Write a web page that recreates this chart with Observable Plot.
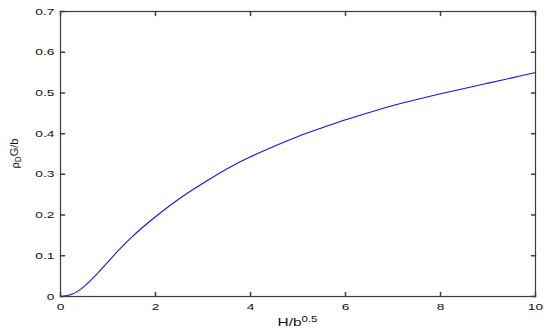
<!DOCTYPE html>
<html><head><meta charset="utf-8">
<script src="https://cdn.jsdelivr.net/npm/d3@7"></script>
<script src="https://cdn.jsdelivr.net/npm/@observablehq/plot@0.6"></script>
<style>
body{margin:0;background:#fff}
#chart svg{display:block;font-family:"Liberation Sans",Arial,sans-serif}
</style>
</head><body><div id="chart"></div>
<script>
// Curve values
const xValues = [0, 0.25, 0.5, 0.75, 1, 1.25, 1.5, 1.75, 2, 2.5, 3, 3.5, 4, 4.5, 5, 5.5, 6, 6.5, 7, 7.5, 8, 8.5, 9, 9.5, 10];
const yValues = [0, 0.006, 0.025, 0.053, 0.085, 0.117, 0.146, 0.172, 0.196, 0.240, 0.278, 0.313, 0.343, 0.369, 0.393, 0.414, 0.434, 0.452, 0.469, 0.484, 0.498, 0.511, 0.524, 0.537, 0.550];
const xTicks = [0, 2, 4, 6, 8, 10];
const xTickLabels = ["0", "2", "4", "6", "8", "10"];
const yTicks = [0, 0.1, 0.2, 0.3, 0.4, 0.5, 0.6, 0.7];
const yTickLabels = ["0", "0.1", "0.2", "0.3", "0.4", "0.5", "0.6", "0.7"];
const xDomain = [0, 10];
const yDomain = [0, 0.7];

const data = xValues.map((x, i) => ({x, y: yValues[i]}));
const tickShape = {draw(ctx, l) { ctx.moveTo(0, 0); ctx.lineTo(0, -l); }};
const frameColor = "#3c3c3c";
const tickLen = 4;

const plot = Plot.plot({
  width: 550,
  height: 334,
  marginLeft: 60,
  marginRight: 15,
  marginTop: 11,
  marginBottom: 38,
  style: {fontFamily: "Liberation Sans, Arial, sans-serif", background: "#fff"},
  x: {domain: xDomain},
  y: {domain: yDomain},
  marks: [
    Plot.line(data, {x: "x", y: "y", stroke: "#1414e6", strokeWidth: 1.1, curve: "natural"}),
    Plot.vector(xTicks, {x: d => d, frameAnchor: "bottom", rotate: 0, length: tickLen, anchor: "start", shape: tickShape, stroke: frameColor}),
    Plot.vector(xTicks, {x: d => d, frameAnchor: "top", rotate: 180, length: tickLen, anchor: "start", shape: tickShape, stroke: frameColor}),
    Plot.vector(yTicks, {y: d => d, frameAnchor: "left", rotate: 90, length: tickLen, anchor: "start", shape: tickShape, stroke: frameColor}),
    Plot.vector(yTicks, {y: d => d, frameAnchor: "right", rotate: -90, length: tickLen, anchor: "start", shape: tickShape, stroke: frameColor}),
    Plot.frame({stroke: frameColor, strokeWidth: 1.2}),
    Plot.axisX({ticks: xTicks, tickFormat: d => xTickLabels[xTicks.indexOf(d)], tickSize: 0, tickPadding: 7, fontSize: 9.5, fill: "#111", label: null}),
    Plot.axisY({ticks: yTicks, tickFormat: d => yTickLabels[yTicks.indexOf(d)], tickSize: 0, tickPadding: 6, fontSize: 9.5, fill: "#111", label: null})
  ]
});

// Stretch tick labels horizontally like the reference
d3.select(plot).selectAll("g[aria-label$='tick label'] text").each(function() {
  const t = this.getAttribute("transform") || "";
  this.setAttribute("transform", t + " scale(1.45,1)");
});

const xs = plot.scale("x"), ys = plot.scale("y");
const cx = (xs.range[0] + xs.range[1]) / 2;
const cy = (ys.range[0] + ys.range[1]) / 2;
const svg = d3.select(plot);

// x-axis label: H/b^0.5
const xl = svg.append("text")
  .attr("transform", `translate(${cx},${ys.range[0] + 29.5}) scale(1.4,1)`)
  .attr("text-anchor", "middle").attr("font-size", 11).attr("fill", "#111");
xl.append("tspan").text("H/b");
xl.append("tspan").attr("dy", "-0.45em").attr("font-size", 8.2).text("0.5");

// y-axis label: ρ_D G/b
const yl = svg.append("text")
  .attr("transform", `translate(18.5,${cy}) rotate(-90)`)
  .attr("text-anchor", "middle").attr("font-size", 11).attr("fill", "#111");
yl.append("tspan").text("ρ");
yl.append("tspan").attr("dy", "0.3em").attr("font-size", 8.2).text("D");
yl.append("tspan").attr("dy", "-0.3em").text("G/b");

document.getElementById("chart").appendChild(plot);
</script>
</body></html>
